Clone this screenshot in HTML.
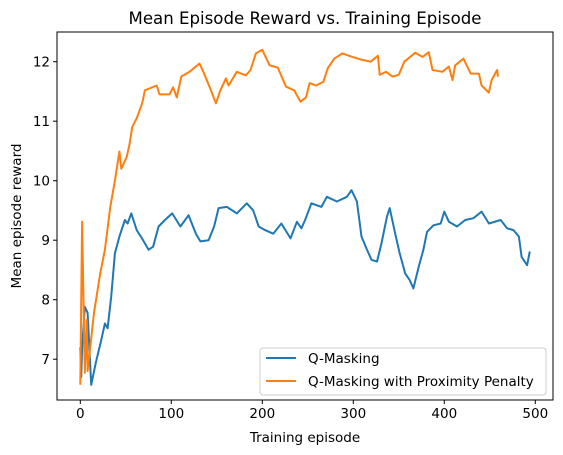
<!DOCTYPE html>
<html><head><meta charset="utf-8"><style>body{margin:0;background:#fff}svg{display:block;font-family:"DejaVu Sans","Liberation Sans",sans-serif}</style></head>
<body>
<svg id="chart" width="563" height="455">
<rect x="0" y="0" width="563" height="455" fill="#fff"/>
<g id="plot"></g>
</svg>
<script>
const blueEp=[0,1,2,5,8,12,17,23,27,30,34,38,43,49,52,56,62,69,75,80,86,93,101,110,119,127,132,141,147,152,161,172,183,190,196,203,212,221,231,238,243,247,254,265,271,282,293,298,304,309,315,320,326,331,337,340,346,351,357,362,366,372,377,381,388,396,400,405,414,423,432,441,449,462,469,476,482,485,491,494];
const blueVal=[7.2,6.7,7.18,7.88,7.78,6.57,6.94,7.32,7.6,7.52,8.05,8.78,9.06,9.34,9.28,9.45,9.17,9.0,8.84,8.89,9.23,9.34,9.45,9.23,9.42,9.11,8.98,9.0,9.23,9.54,9.56,9.45,9.62,9.5,9.23,9.17,9.11,9.28,9.03,9.31,9.2,9.34,9.62,9.56,9.73,9.65,9.73,9.84,9.65,9.06,8.84,8.67,8.64,8.95,9.4,9.54,9.11,8.78,8.44,8.33,8.19,8.56,8.84,9.14,9.25,9.28,9.48,9.31,9.23,9.34,9.37,9.48,9.28,9.34,9.2,9.17,9.06,8.72,8.58,8.81];
const orangeEp=[0,2,5,7,8,15,22,27,33,38,43,45,51,54,57,62,68,71,84,87,98,102,106,111,120,131,136,142,149,154,160,163,172,182,187,193,200,208,217,226,235,242,248,252,259,267,272,279,288,299,310,319,327,329,336,343,350,356,368,376,383,387,398,405,409,412,421,429,438,441,449,452,458,459];
const orangeVal=[6.57,9.31,6.77,7.66,6.8,7.78,8.45,8.84,9.56,10.0,10.49,10.2,10.4,10.6,10.9,11.05,11.3,11.52,11.6,11.45,11.45,11.57,11.4,11.75,11.83,11.97,11.8,11.58,11.3,11.52,11.72,11.6,11.83,11.77,11.86,12.14,12.2,11.94,11.9,11.58,11.52,11.33,11.4,11.64,11.6,11.66,11.89,12.05,12.14,12.08,12.03,12.0,12.1,11.78,11.83,11.75,11.78,12.0,12.15,12.08,12.16,11.86,11.83,11.92,11.69,11.94,12.05,11.8,11.8,11.6,11.48,11.69,11.86,11.75];
const xTicks=[0,100,200,300,400,500];
const yTicks=[7,8,9,10,11,12];
const L=57,R=553,T=32,B=400;
const xs=e=>80.3+e*0.91;
const ys=v=>61.7+(12-v)*59.5;
const NS="http://www.w3.org/2000/svg";
const g=document.getElementById('plot');
function mk(t,a,txt){const e=document.createElementNS(NS,t);for(const k in a)e.setAttribute(k,a[k]);if(txt!==undefined)e.textContent=txt;g.appendChild(e);return e;}
function line(ep,val,color,name){
  const p=mk('polyline',{points:ep.map((e,i)=>xs(e).toFixed(1)+','+ys(val[i]).toFixed(1)).join(' '),fill:'none',stroke:color,'stroke-width':2,'stroke-linejoin':'round'});
  
  
}
line(blueEp,blueVal,'#1f77b4','q-masking-line');
line(orangeEp,orangeVal,'#ff7f0e','proximity-penalty-line');
const fr=mk('rect',{x:L,y:T,width:R-L,height:B-T,fill:'none',stroke:'#000','stroke-width':1});


xTicks.forEach(t=>{
  mk('line',{x1:xs(t),x2:xs(t),y1:B,y2:B+4,stroke:'#000'});
  const tx=mk('text',{x:xs(t),y:B+18,'font-size':13.5,'text-anchor':'middle',fill:'#000'},String(t));
  
  
});
yTicks.forEach(t=>{
  mk('line',{x1:L-4,x2:L,y1:ys(t),y2:ys(t),stroke:'#000'});
  const tx=mk('text',{x:L-7,y:ys(t)+5,'font-size':13.5,'text-anchor':'end',fill:'#000'},String(t));
  
  
});
const ti=mk('text',{x:305,y:24,'font-size':16.6,'text-anchor':'middle',fill:'#000'},'Mean Episode Reward vs. Training Episode');


const xl=mk('text',{x:305,y:442,'font-size':13.5,'text-anchor':'middle',fill:'#000'},'Training episode');


const yl=mk('text',{x:0,y:0,'font-size':13.5,'text-anchor':'middle',fill:'#000',transform:'translate(21,216) rotate(-90)'},'Mean episode reward');


const lg=mk('rect',{x:260,y:348,width:286,height:47,rx:3,fill:'#fff','fill-opacity':0.8,stroke:'#ccc'});


[['#1f77b4','Q-Masking',358],['#ff7f0e','Q-Masking with Proximity Penalty',381]].forEach(d=>{
  mk('line',{x1:266,x2:296,y1:d[2],y2:d[2],stroke:d[0],'stroke-width':2});
  const tx=mk('text',{x:308,y:d[2]+5,'font-size':13.5,fill:'#000'},d[1]);
  
  
});
</script>
</body></html>
